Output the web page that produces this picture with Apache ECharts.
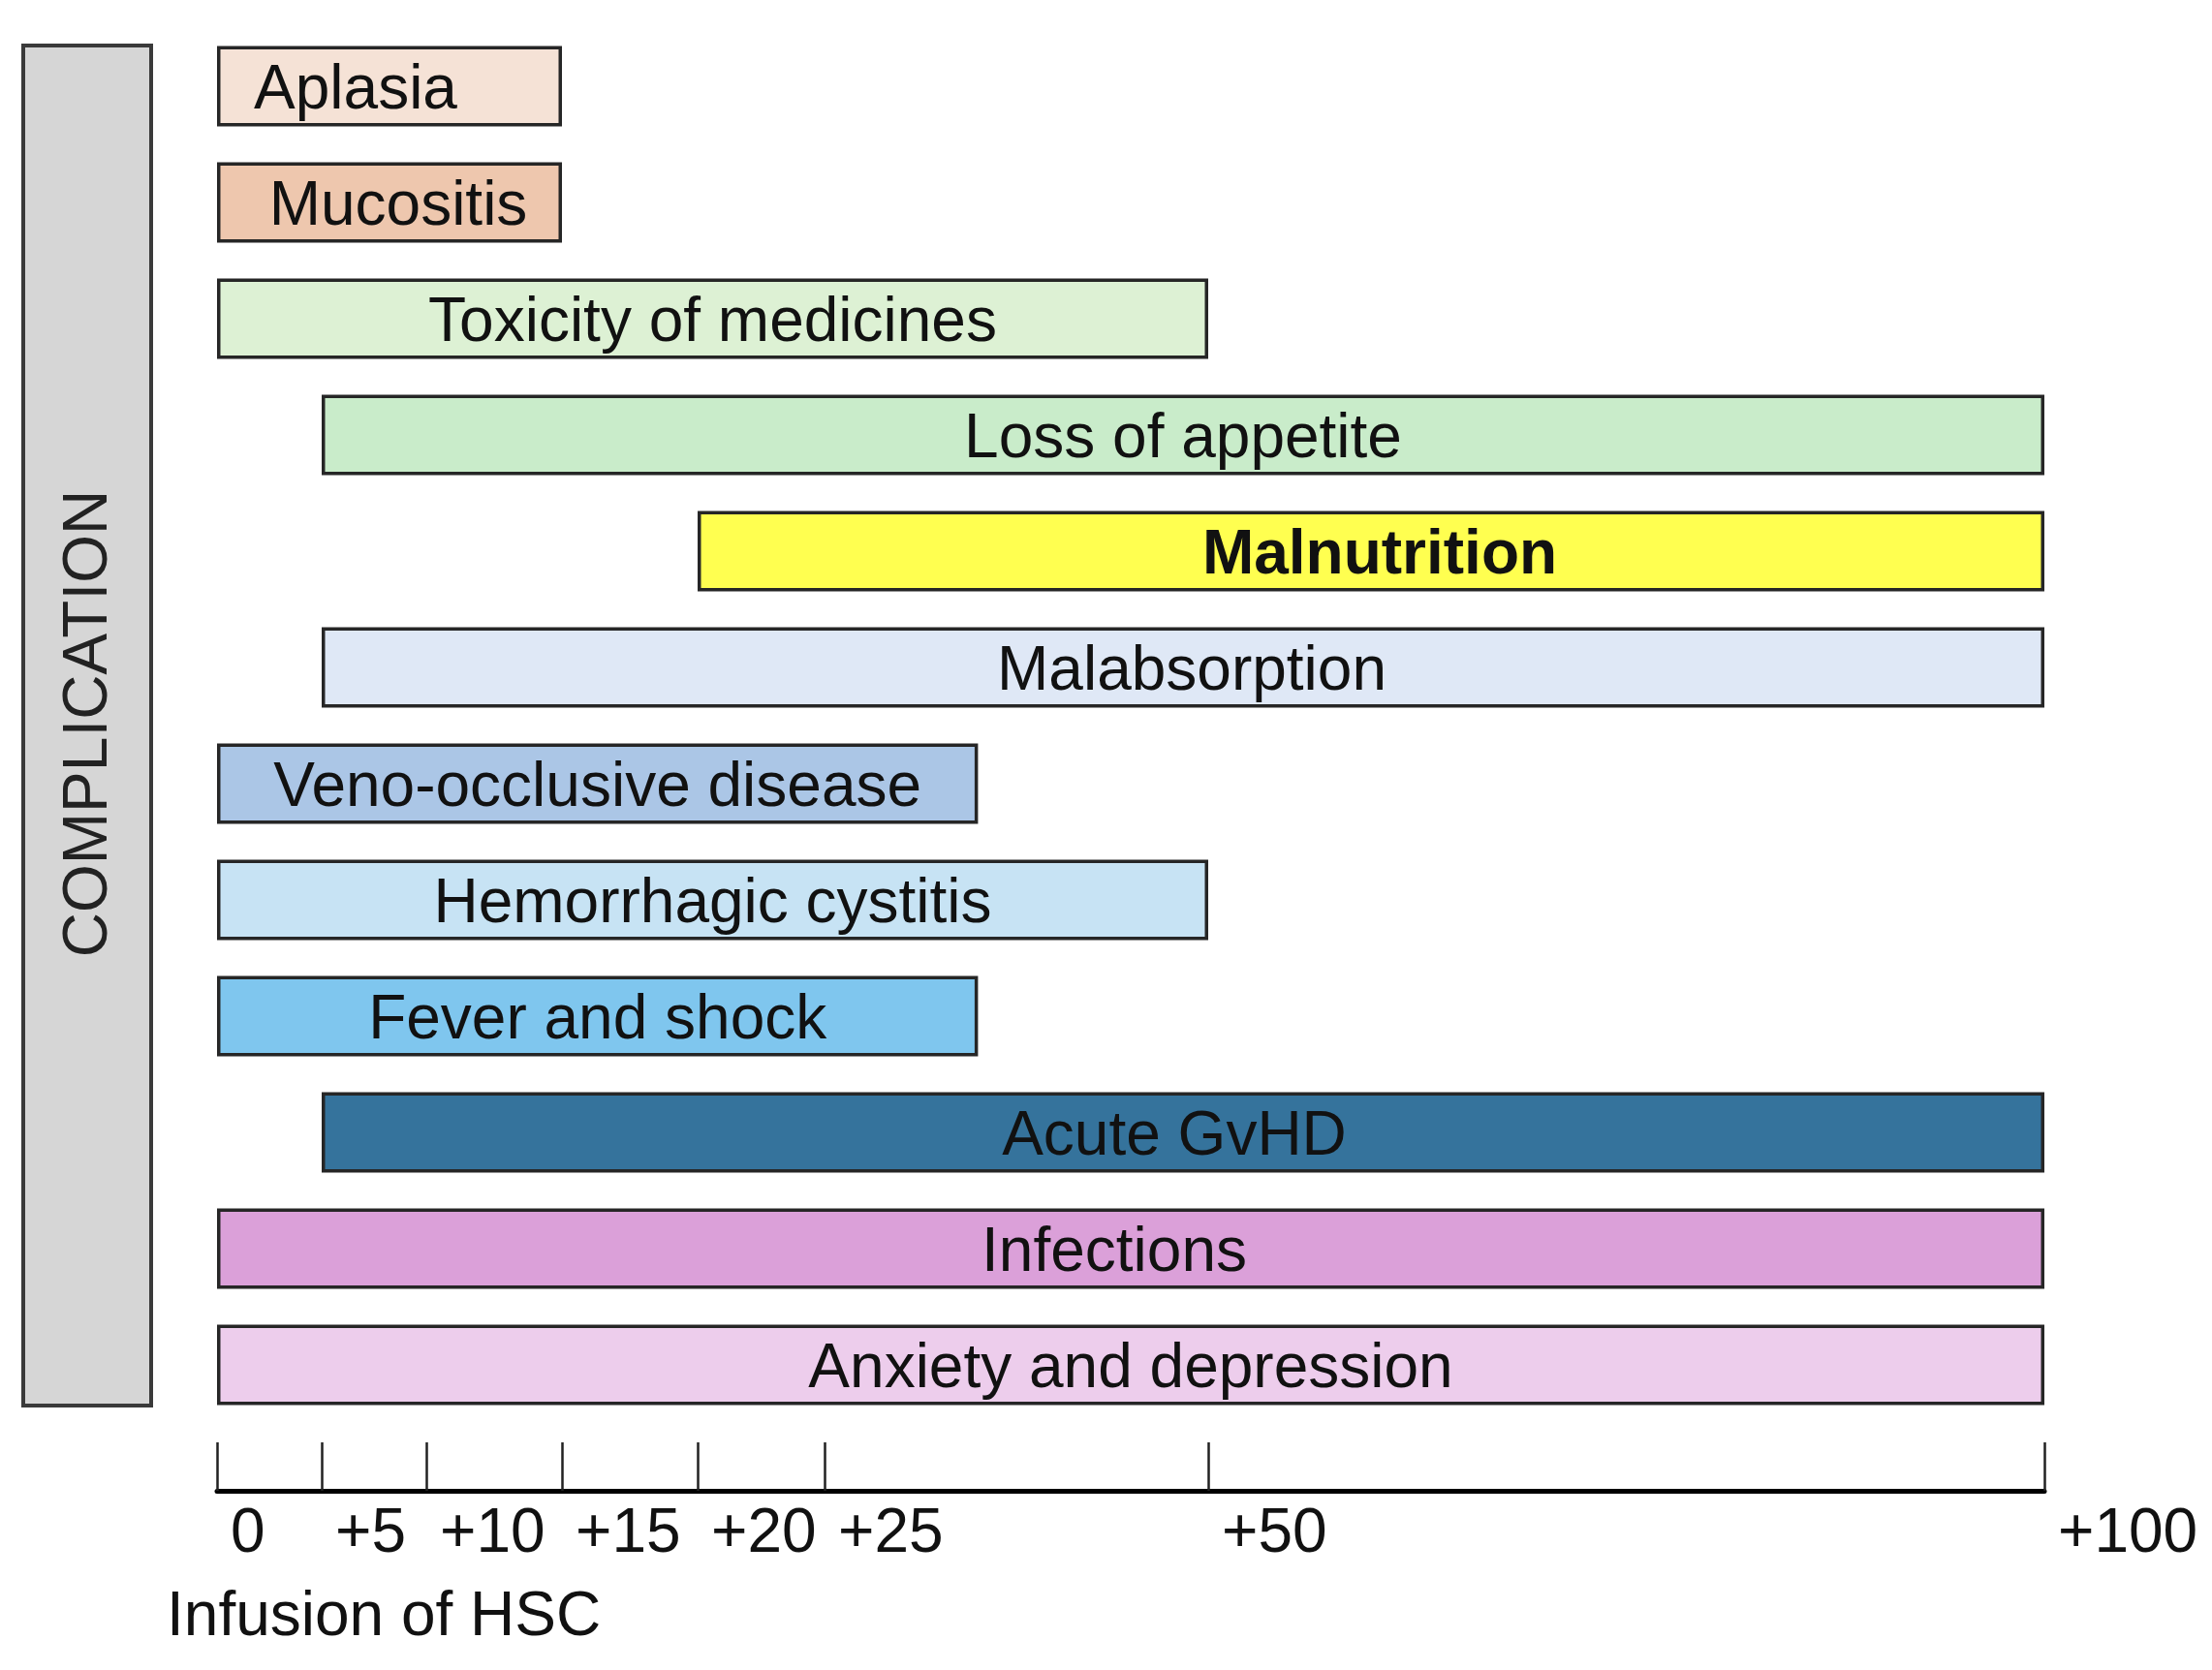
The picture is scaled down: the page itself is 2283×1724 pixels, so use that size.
<!DOCTYPE html>
<html>
<head>
<meta charset="utf-8">
<script src="https://cdn.jsdelivr.net/npm/echarts@6/dist/echarts.min.js"></script>
<style>
html,body{margin:0;padding:0;background:#fff;}
#chart{width:2283px;height:1724px;}
</style>
</head>
<body>
<div id="chart"></div>
<script>
// ---- data ----
const categories = ['Aplasia','Mucositis','Toxicity of medicines','Loss of appetite','Malnutrition','Malabsorption','Veno-occlusive disease','Hemorrhagic cystitis','Fever and shock','Acute GvHD','Infections','Anxiety and depression'];
const startDay = [0, 0, 0, 5, 20, 5, 0, 0, 0, 5, 0, 0];
const endDay   = [15, 15, 50, 100, 100, 100, 35, 50, 35, 100, 100, 100];
const tickDays = [0, 5, 10, 15, 20, 25, 50, 100];
const tickLabels = ['0', '+5', '+10', '+15', '+20', '+25', '+50', '+100'];
const barColors = ['#f5e2d6','#eec7ae','#ddf1d4','#c9ecca','#ffff50','#dfe8f6','#abc6e6','#c7e3f4','#7fc6ee','#35739c','#dba0d9','#edcdec'];

// ---- layout: the drawn time axis is piecewise (non-uniform) ----
const AXIS_STOPS = [0, 108, 216, 356, 496, 627, 1023, 1886];
const LABEL_NUDGE_X = [-35, 9, 0, 0, 9, 9, 0, 0, 0, -9, -17, 0];
function warp(day) {
  for (let i = 1; i < tickDays.length; i++) {
    if (day <= tickDays[i]) {
      const t = (day - tickDays[i-1]) / (tickDays[i] - tickDays[i-1]);
      return AXIS_STOPS[i-1] + t * (AXIS_STOPS[i] - AXIS_STOPS[i-1]);
    }
  }
  return AXIS_STOPS[AXIS_STOPS.length - 1];
}
const tickPos = tickDays.map(warp);
const FONT = '"Liberation Sans", Arial, Helvetica, sans-serif';
const FS = 64;

const chart = echarts.init(document.getElementById('chart'), null, {renderer: 'canvas'});
chart.setOption({
  animation: false,
  backgroundColor: '#ffffff',
  grid: {left: 224, top: 29, width: 1886, height: 1440, containLabel: false},
  xAxis: {
    type: 'value', min: 0, max: tickPos[tickPos.length - 1],
    position: 'bottom', offset: 70,
    splitLine: {show: false},
    axisLine: {show: true, lineStyle: {color: '#000', width: 5}},
    axisTick: {show: true, inside: true, length: 50, customValues: tickPos, lineStyle: {color: '#222', width: 2.5}},
    axisLabel: {
      show: true, customValues: tickPos, margin: 13, align: 'left', padding: [0, 0, 0, 14],
      fontFamily: FONT, fontSize: FS, color: '#111',
      formatter: function (v) {
        let best = 0;
        for (let i = 0; i < tickPos.length; i++) if (Math.abs(tickPos[i] - v) < Math.abs(tickPos[best] - v)) best = i;
        return tickLabels[best];
      }
    }
  },
  yAxis: {type: 'category', data: categories, inverse: true, show: false},
  series: [
    {
      type: 'bar', stack: 'span', silent: true, barWidth: 83,
      itemStyle: {color: 'rgba(0,0,0,0)'},
      data: startDay.map(warp)
    },
    {
      type: 'bar', stack: 'span', barWidth: 83,
      data: categories.map(function (name, i) {
        return {
          value: warp(endDay[i]) - warp(startDay[i]),
          itemStyle: {color: barColors[i], borderColor: '#262626', borderWidth: 3.5},
          label: {fontWeight: name === 'Malnutrition' ? 'bold' : 'normal', offset: [LABEL_NUDGE_X[i], 5]}
        };
      }),
      label: {
        show: true, position: 'inside', fontFamily: FONT, fontSize: FS, color: '#111',
        formatter: function (p) { return categories[p.dataIndex]; }
      }
    }
  ],
  graphic: [
    {type: 'rect', shape: {x: 24, y: 47, width: 132, height: 1404}, style: {fill: '#d6d6d6', stroke: '#3a3a3a', lineWidth: 4}},
    {type: 'text', x: 92, y: 747, rotation: Math.PI / 2,
     style: {text: 'COMPLICATION', fontFamily: FONT, fontSize: FS, fill: '#222', align: 'center', verticalAlign: 'middle'}},
    {type: 'text', x: 172, y: 1638,
     style: {text: 'Infusion of HSC', fontFamily: FONT, fontSize: FS, fill: '#111', align: 'left', verticalAlign: 'top'}}
  ]
});
</script>
</body>
</html>
